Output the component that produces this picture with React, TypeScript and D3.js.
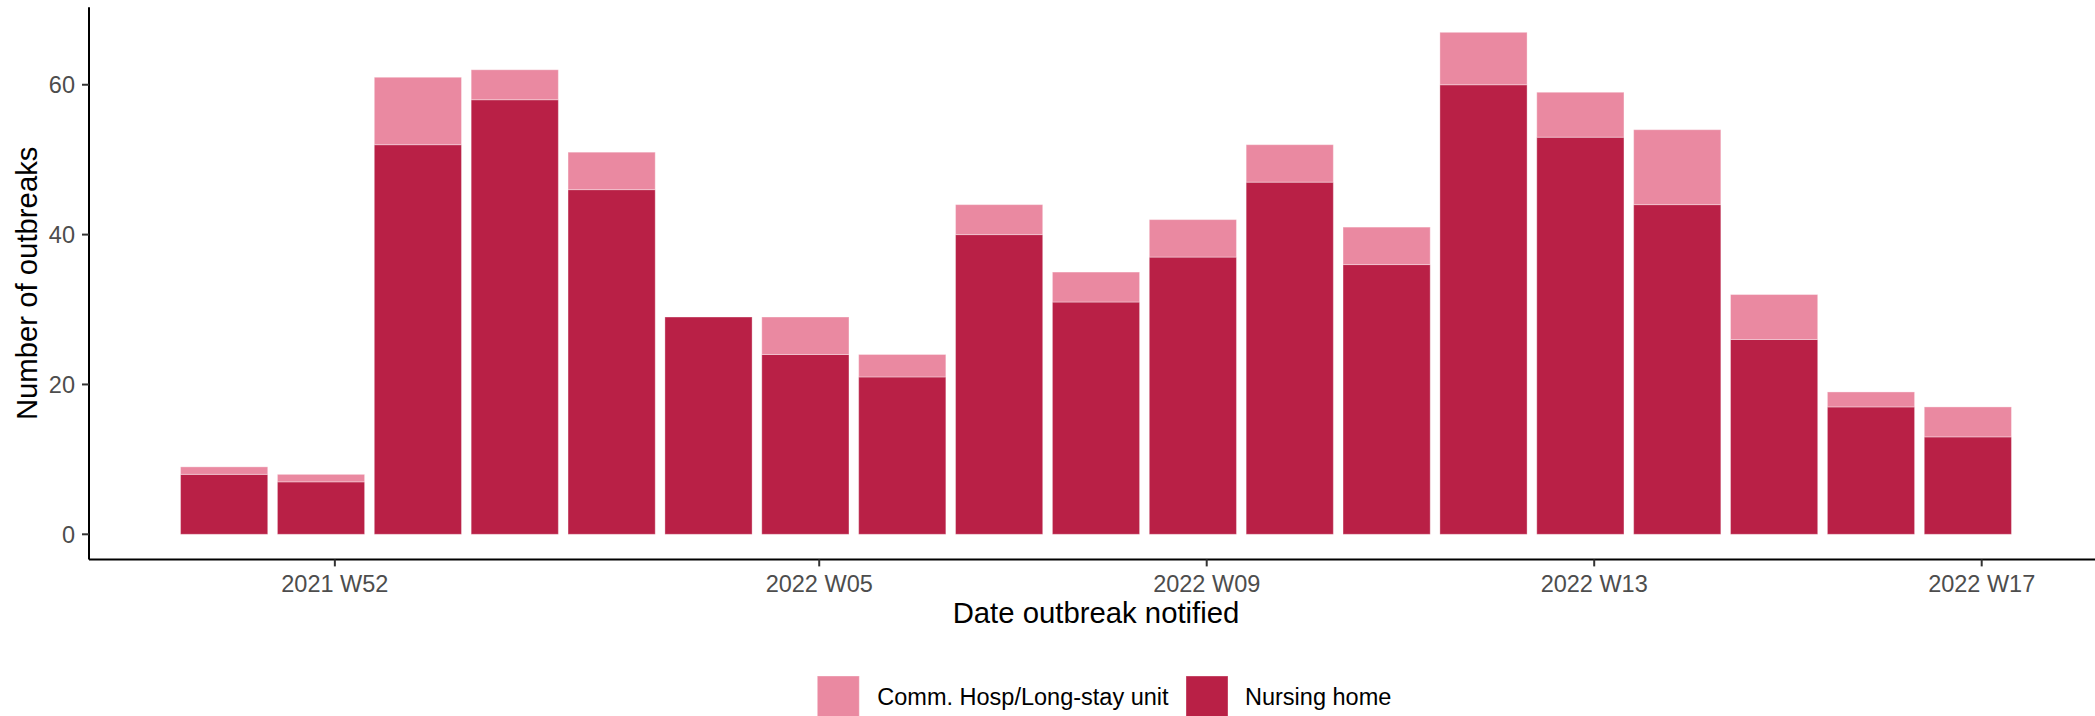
import React from "react";
import * as d3 from "d3";

// Week (bar centre date, Sunday) of notification
const weekDates = [
  "2021-12-19", "2021-12-26", "2022-01-02", "2022-01-09", "2022-01-16",
  "2022-01-23", "2022-01-30", "2022-02-06", "2022-02-13", "2022-02-20",
  "2022-02-27", "2022-03-06", "2022-03-13", "2022-03-20", "2022-03-27",
  "2022-04-03", "2022-04-10", "2022-04-17", "2022-04-24",
];
const nursingHome = [8, 7, 52, 58, 46, 29, 24, 21, 40, 31, 37, 47, 36, 60, 53, 44, 26, 17, 13];
const commHosp = [1, 1, 9, 4, 5, 0, 5, 3, 4, 4, 5, 5, 5, 7, 6, 10, 6, 2, 4];

const seriesKeys = ["Nursing home", "Comm. Hosp/Long-stay unit"];
const seriesColors = ["#B92046", "#EA89A1"];
const legendOrder = ["Comm. Hosp/Long-stay unit", "Nursing home"];

const xTickDates = ["2021-12-27", "2022-01-31", "2022-02-28", "2022-03-28", "2022-04-25"];
const yTicks = [0, 20, 40, 60];

const W = 2095;
const H = 716;
const FONT = "'Liberation Sans', Arial, Helvetica, sans-serif";

export default function App() {
  const parse = d3.utcParse("%Y-%m-%d");
  const dates = weekDates.map((d) => parse(d) as Date);
  const rows = dates.map((d, i) => ({
    date: d,
    "Nursing home": nursingHome[i],
    "Comm. Hosp/Long-stay unit": commHosp[i],
  }));
  const stacked = d3.stack<any>().keys(seriesKeys)(rows);

  const DAY = 86400000;
  const halfW = 0.45 * 7 * DAY;
  const first = dates[0].getTime() - halfW;
  const last = dates[dates.length - 1].getTime() + halfW;
  const padX = 0.05 * (last - first);
  const x = d3
    .scaleUtc()
    .domain([new Date(first - padX), new Date(last + padX)])
    .range([89, 2103]);

  const maxTotal = d3.max(rows, (r) => r["Nursing home"] + r["Comm. Hosp/Long-stay unit"]) as number;
  const padY = 0.05 * maxTotal;
  const y = d3.scaleLinear().domain([-padY, maxTotal + padY]).range([559.4, 7.2]);

  const fmt = d3.utcFormat("%G W%V");
  const colorOf = d3.scaleOrdinal<string, string>().domain(seriesKeys).range(seriesColors);

  const [x0, x1] = x.range();
  const [yB, yT] = y.range();
  const bw = (x(new Date(dates[0].getTime() + halfW)) - x(new Date(dates[0].getTime() - halfW)));

  const legendItems = [
    { key: legendOrder[0], boxX: 817.3, textX: 877.3 },
    { key: legendOrder[1], boxX: 1186, textX: 1245 },
  ];

  return (
    <svg
      width={W}
      height={H}
      style={{ position: "absolute", left: 0, top: 0, background: "#fff" }}
      fontFamily={FONT}
    >
      <rect x={0} y={0} width={W} height={H} fill="#fff" />
      {/* bars */}
      {stacked.map((s) => (
        <g key={s.key} fill={colorOf(s.key)}>
          {s.map((d: any, i: number) => (
            <rect
              key={i}
              x={x(d.data.date) - bw / 2}
              width={bw}
              y={y(d[1])}
              height={Math.max(0, y(d[0]) - y(d[1]))}
              stroke="rgba(255,255,255,0.35)"
              strokeWidth={1}
            />
          ))}
        </g>
      ))}

      {/* axes */}
      <line x1={x0} x2={x1} y1={yB} y2={yB} stroke="#000" strokeWidth={2} />
      <line x1={x0} x2={x0} y1={yB} y2={yT} stroke="#000" strokeWidth={2} />

      {yTicks.map((t) => (
        <g key={t}>
          <line x1={x0 - 7} x2={x0} y1={y(t)} y2={y(t)} stroke="#333" strokeWidth={2} />
          <text
            x={75}
            y={y(t)}
            dy="0.35em"
            textAnchor="end"
            fontSize={23.5}
            fill="#4D4D4D"
          >
            {t}
          </text>
        </g>
      ))}

      {xTickDates.map((s) => {
        const d = parse(s) as Date;
        const px = x(d);
        return (
          <g key={s}>
            <line x1={px} x2={px} y1={yB} y2={yB + 7} stroke="#333" strokeWidth={2} />
            <text x={px} y={591.5} textAnchor="middle" fontSize={23.5} fill="#4D4D4D">
              {fmt(d)}
            </text>
          </g>
        );
      })}

      {/* axis titles */}
      <text x={(x0 + x1) / 2} y={623} textAnchor="middle" fontSize={29.3} fill="#000">
        Date outbreak notified
      </text>
      <text
        transform={`translate(36.5,${(yB + yT) / 2}) rotate(-90)`}
        textAnchor="middle"
        fontSize={29.3}
        fill="#000"
      >
        Number of outbreaks
      </text>

      {/* legend */}
      {legendItems.map((it) => (
        <g key={it.key}>
          <rect x={it.boxX} y={676} width={42} height={42} fill={colorOf(it.key)} stroke="rgba(255,255,255,0.35)" strokeWidth={1} />
          <text x={it.textX} y={697} dy="0.35em" fontSize={23.5} fill="#000">
            {it.key}
          </text>
        </g>
      ))}
    </svg>
  );
}
